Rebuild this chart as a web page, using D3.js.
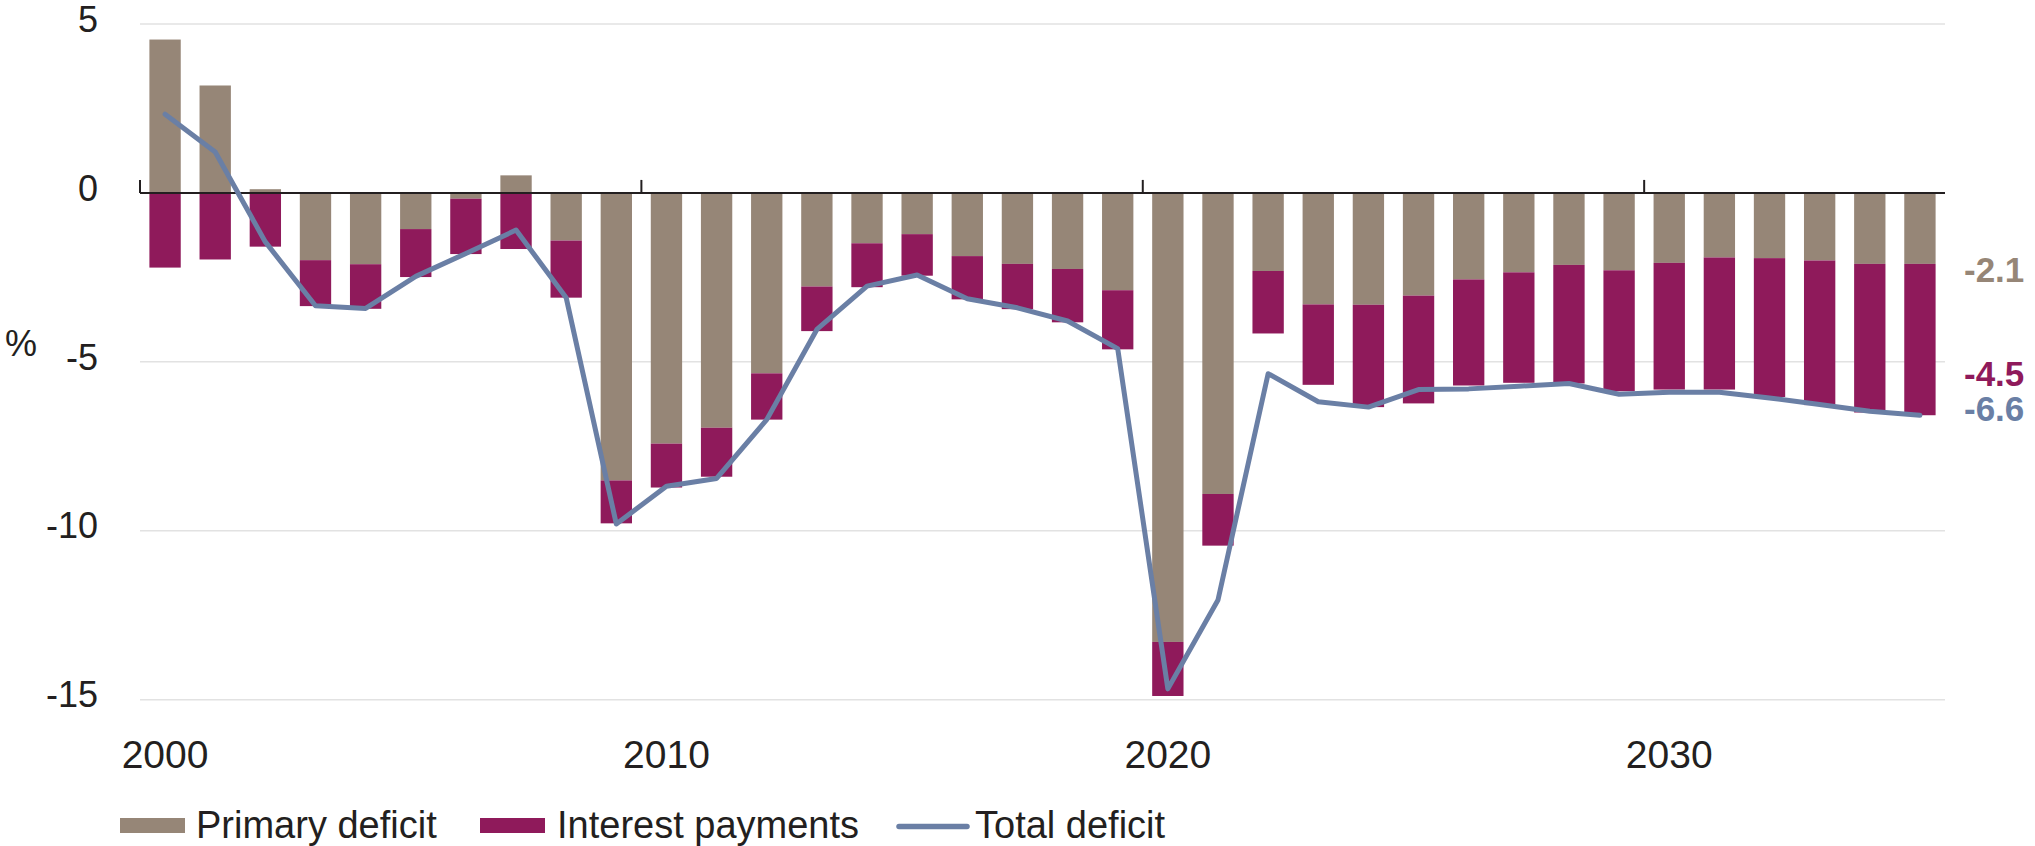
<!DOCTYPE html>
<html>
<head>
<meta charset="utf-8">
<script src="https://cdn.jsdelivr.net/npm/d3@7"></script>
<style>
  html, body { margin: 0; padding: 0; background: #fff; }
  svg { display: block; font-family: 'Liberation Sans', Arial, sans-serif; }
</style>
</head>
<body>
<svg id="chart" width="2035" height="846"></svg>
<script>
// ---- data ----
const years = [2000,2001,2002,2003,2004,2005,2006,2007,2008,2009,
               2010,2011,2012,2013,2014,2015,2016,2017,2018,2019,
               2020,2021,2022,2023,2024,2025,2026,2027,2028,2029,
               2030,2031,2032,2033,2034,2035];
const primaryDeficit = [4.54,3.18,0.11,-1.99,-2.11,-1.07,-0.17,0.52,-1.41,-8.51,
                        -7.42,-6.95,-5.34,-2.77,-1.49,-1.22,-1.87,-2.10,-2.25,-2.88,
                        -13.29,-8.91,-2.31,-3.30,-3.31,-3.04,-2.56,-2.35,-2.13,-2.29,
                        -2.07,-1.91,-1.93,-2.00,-2.10,-2.10];
const interestPayments = [-2.21,-1.97,-1.59,-1.36,-1.32,-1.42,-1.64,-1.66,-1.69,-1.27,
                          -1.30,-1.45,-1.37,-1.32,-1.30,-1.23,-1.28,-1.34,-1.58,-1.75,
                          -1.60,-1.53,-1.85,-2.38,-3.03,-3.19,-3.14,-3.27,-3.51,-3.58,
                          -3.75,-3.91,-4.11,-4.28,-4.40,-4.48];
const totalDeficit = [2.33,1.21,-1.45,-3.34,-3.42,-2.47,-1.79,-1.10,-3.10,-9.80,
                      -8.68,-8.45,-6.71,-4.04,-2.76,-2.43,-3.13,-3.40,-3.79,-4.61,
                      -14.68,-12.05,-5.35,-6.18,-6.34,-5.82,-5.80,-5.72,-5.64,-5.96,
                      -5.90,-5.90,-6.07,-6.26,-6.46,-6.58];
const yTicks = [5, 0, -5, -10, -15];
const xTickYears = [2000, 2010, 2020, 2030];
const seriesNames = ["Primary deficit", "Interest payments", "Total deficit"];
const endLabels = ["-2.1", "-4.5", "-6.6"];
const unitLabel = "%";

// ---- style ----
const C_PRIMARY = "#968677";
const C_INTEREST = "#8f1a5b";
const C_TOTAL = "#6a7fa5";
const C_TEXT = "#231f20";
const C_GRID = "#e2e2e2";

const svg = d3.select("#chart");

const x = d3.scaleBand().domain(years).range([140, 1945]).paddingInner(0.375).paddingOuter(0.1875);
const y = d3.scaleLinear().domain([-15, 5]).range([699.7, 24]);
const step = x.step();
const tickX = yr => x(yr) - step * x.paddingInner() / 2;

// gridlines
svg.append("g").selectAll("line").data(yTicks.filter(t => t !== 0)).join("line")
  .attr("x1", 140).attr("x2", 1945)
  .attr("y1", d => y(d)).attr("y2", d => y(d))
  .attr("stroke", C_GRID).attr("stroke-width", 1.5);

// y labels
svg.append("g").selectAll("text").data(yTicks).join("text")
  .attr("x", 98).attr("y", d => y(d) + 7.7)
  .attr("text-anchor", "end")
  .attr("font-size", 36).attr("fill", C_TEXT)
  .text(d => d);

svg.append("text").attr("x", 5).attr("y", 356)
  .attr("font-size", 36).attr("fill", C_TEXT).text(unitLabel);

// bars
const rows = years.map((yr, i) => ({
  yr, p: primaryDeficit[i], ip: interestPayments[i], t: totalDeficit[i]
}));
const bars = svg.append("g");
bars.selectAll("rect.p").data(rows).join("rect").attr("class", "p")
  .attr("x", d => x(d.yr)).attr("width", x.bandwidth())
  .attr("y", d => y(Math.max(0, d.p)))
  .attr("height", d => Math.abs(y(d.p) - y(0)))
  .attr("fill", C_PRIMARY);
bars.selectAll("rect.i").data(rows).join("rect").attr("class", "i")
  .attr("x", d => x(d.yr)).attr("width", x.bandwidth())
  .attr("y", d => y(Math.min(0, d.p)))
  .attr("height", d => Math.abs(y(Math.min(0, d.p) + d.ip) - y(Math.min(0, d.p))))
  .attr("fill", C_INTEREST);

// zero axis + ticks
svg.append("line").attr("x1", 140).attr("x2", 1945)
  .attr("y1", y(0)).attr("y2", y(0))
  .attr("stroke", C_TEXT).attr("stroke-width", 2);
svg.append("g").selectAll("line").data(xTickYears).join("line")
  .attr("x1", d => tickX(d)).attr("x2", d => tickX(d))
  .attr("y1", y(0)).attr("y2", y(0) - 13)
  .attr("stroke", C_TEXT).attr("stroke-width", 2);

// x labels
svg.append("g").selectAll("text").data(xTickYears).join("text")
  .attr("x", d => x(d) + x.bandwidth() / 2).attr("y", 768)
  .attr("text-anchor", "middle")
  .attr("font-size", 39).attr("fill", C_TEXT)
  .text(d => d);

// total line
const line = d3.line().x(d => x(d.yr) + x.bandwidth() / 2).y(d => y(d.t));
svg.append("path").datum(rows)
  .attr("d", line).attr("fill", "none")
  .attr("stroke", C_TOTAL).attr("stroke-width", 5)
  .attr("stroke-linejoin", "round").attr("stroke-linecap", "round");

// end labels
const last = rows[rows.length - 1];
const totalBase = y(last.t) + 6;
const endPos = [
  { t: endLabels[0], c: C_PRIMARY, yy: y(last.p) + 18 },
  { t: endLabels[1], c: C_INTEREST, yy: totalBase - 35 },
  { t: endLabels[2], c: C_TOTAL, yy: totalBase }
];
svg.append("g").selectAll("text").data(endPos).join("text")
  .attr("x", 1964).attr("y", d => d.yy)
  .attr("font-size", 35).attr("font-weight", "bold")
  .attr("fill", d => d.c).text(d => d.t);

// legend
const lg = svg.append("g").attr("font-size", 38).attr("fill", C_TEXT);
lg.append("rect").attr("x", 120).attr("y", 818).attr("width", 65).attr("height", 15).attr("fill", C_PRIMARY);
lg.append("text").attr("x", 196).attr("y", 838).text(seriesNames[0]);
lg.append("rect").attr("x", 480).attr("y", 818).attr("width", 65).attr("height", 15).attr("fill", C_INTEREST);
lg.append("text").attr("x", 557).attr("y", 838).text(seriesNames[1]);
lg.append("line").attr("x1", 899).attr("x2", 967).attr("y1", 826.5).attr("y2", 826.5)
  .attr("stroke", C_TOTAL).attr("stroke-width", 5.5).attr("stroke-linecap", "round");
lg.append("text").attr("x", 975).attr("y", 838).text(seriesNames[2]);
</script>
</body>
</html>
